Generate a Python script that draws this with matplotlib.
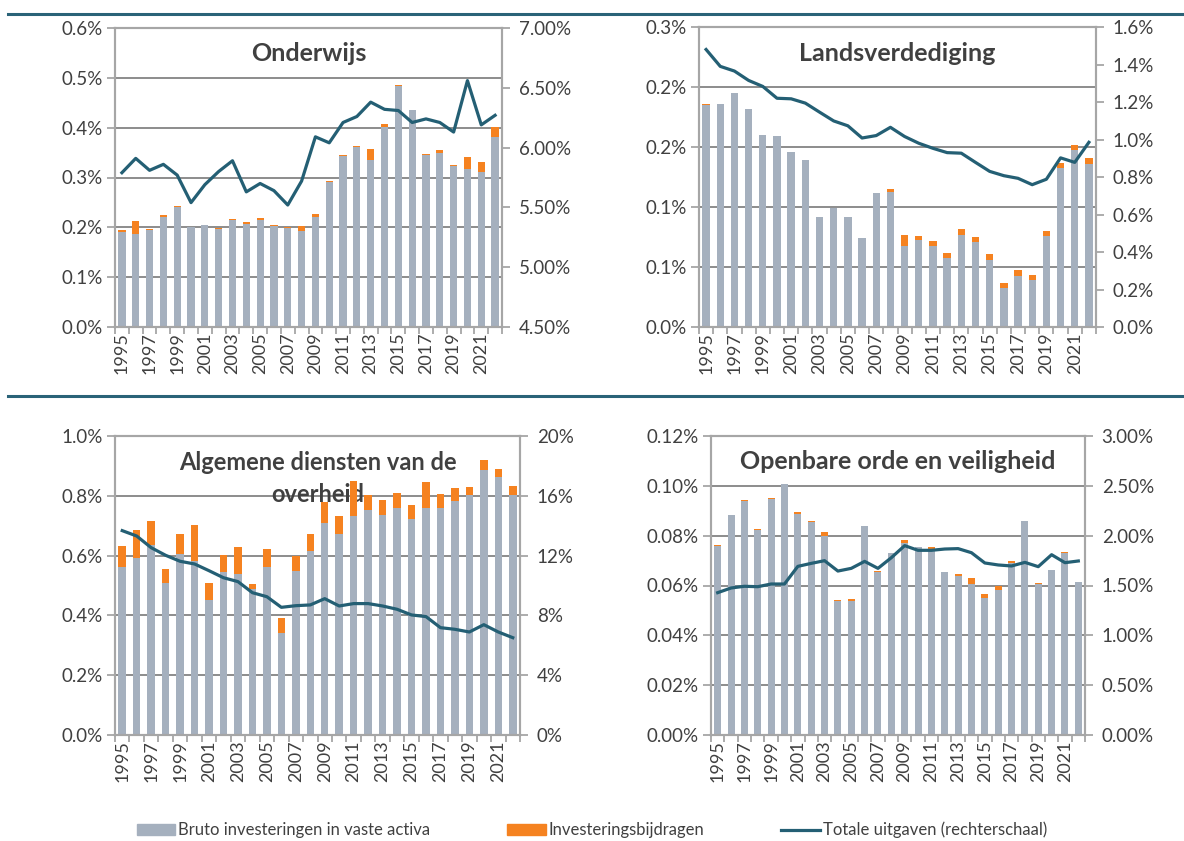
import numpy as np
import matplotlib
matplotlib.use("Agg")
import matplotlib.pyplot as plt
from matplotlib.lines import Line2D
from matplotlib.patches import Patch

plt.rcParams['font.family'] = ['Lato', 'DejaVu Sans']

years = list(range(1995, 2023))

# Onderwijs (% bbp), right axis: totale uitgaven
ond_bruto = [0.191, 0.186, 0.194, 0.221, 0.241, 0.200, 0.204, 0.196, 0.214, 0.206,
             0.214, 0.202, 0.198, 0.193, 0.221, 0.290, 0.343, 0.361, 0.336, 0.402,
             0.483, 0.435, 0.346, 0.349, 0.324, 0.317, 0.311, 0.381]
ond_bijdr = [0.003, 0.026, 0.003, 0.003, 0.002, 0.001, 0.001, 0.002, 0.002, 0.005,
             0.004, 0.003, 0.002, 0.010, 0.006, 0.002, 0.003, 0.003, 0.021, 0.006,
             0.002, 0.001, 0.002, 0.006, 0.002, 0.024, 0.021, 0.020]
ond_totaal = [5.79, 5.91, 5.81, 5.86, 5.77, 5.54, 5.69, 5.80, 5.89, 5.63,
              5.70, 5.64, 5.52, 5.72, 6.09, 6.04, 6.21, 6.26, 6.38, 6.32,
              6.31, 6.21, 6.24, 6.21, 6.13, 6.56, 6.19, 6.27]

# Landsverdediging
lv_bruto = [0.1846, 0.1857, 0.1949, 0.1815, 0.1601, 0.1590, 0.1462, 0.1395, 0.0916, 0.0991,
            0.0913, 0.0738, 0.1116, 0.1128, 0.0677, 0.0727, 0.0677, 0.0576, 0.0766, 0.0710,
            0.0562, 0.0323, 0.0426, 0.0390, 0.0760, 0.1323, 0.1475, 0.1361]
lv_bijdr = [0.001, 0.0, 0.0, 0.0, 0.0, 0.0, 0.0, 0.0, 0.0, 0.0,
            0.0, 0.0, 0.0, 0.0025, 0.009, 0.003, 0.004, 0.004, 0.005, 0.004,
            0.0045, 0.0047, 0.005, 0.0047, 0.004, 0.004, 0.0045, 0.005]
lv_totaal = [1.48, 1.39, 1.365, 1.315, 1.283, 1.22, 1.217, 1.194, 1.146, 1.099,
             1.073, 1.008, 1.021, 1.065, 1.016, 0.98, 0.953, 0.93, 0.927, 0.878,
             0.83, 0.807, 0.793, 0.759, 0.788, 0.902, 0.878, 0.985]

# Algemene diensten van de overheid
alg_bruto = [0.563, 0.593, 0.634, 0.507, 0.604, 0.582, 0.453, 0.545, 0.540, 0.487,
             0.563, 0.342, 0.550, 0.617, 0.709, 0.671, 0.732, 0.751, 0.737, 0.758,
             0.724, 0.758, 0.760, 0.784, 0.804, 0.885, 0.864, 0.804]
alg_bijdr = [0.069, 0.092, 0.081, 0.049, 0.069, 0.119, 0.056, 0.056, 0.088, 0.017,
             0.060, 0.050, 0.048, 0.054, 0.069, 0.063, 0.116, 0.051, 0.050, 0.051,
             0.044, 0.087, 0.047, 0.043, 0.027, 0.034, 0.027, 0.029]
alg_totaal = [13.67, 13.31, 12.53, 12.02, 11.62, 11.44, 10.99, 10.52, 10.26, 9.52,
              9.25, 8.54, 8.65, 8.70, 9.12, 8.63, 8.79, 8.79, 8.63, 8.41,
              8.03, 7.92, 7.18, 7.07, 6.89, 7.38, 6.89, 6.51]

# Openbare orde en veiligheid
oov_bruto = [0.0760, 0.0884, 0.0939, 0.0823, 0.0949, 0.1009, 0.0888, 0.0855, 0.0797, 0.0536,
             0.0539, 0.0839, 0.0654, 0.0732, 0.0771, 0.0756, 0.0748, 0.0654, 0.0638, 0.0607,
             0.0551, 0.0583, 0.0692, 0.0860, 0.0606, 0.0662, 0.0730, 0.0615]
oov_bijdr = [0.0004, 0.0, 0.0003, 0.0002, 0.0002, 0.0, 0.0006, 0.0004, 0.0018, 0.0004,
             0.0005, -0.0003, 0.0004, 0.0, 0.0013, -0.0006, 0.0008, 0.0, 0.0009, 0.0024,
             0.0015, 0.0015, 0.0005, 0.0, 0.0004, 0.0, 0.0003, 0.0]
oov_totaal = [1.428, 1.475, 1.492, 1.488, 1.515, 1.515, 1.692, 1.722, 1.749, 1.645,
              1.672, 1.742, 1.672, 1.779, 1.900, 1.853, 1.853, 1.866, 1.870, 1.829,
              1.726, 1.706, 1.696, 1.732, 1.689, 1.809, 1.729, 1.746]

GREY = '#A5B0BE'
ORANGE = '#F58220'
TEAL = '#245F74'
SPINE = '#A6A6A6'
GRID = '#8C8C8C'
TXT = '#404040'

W, H = 1184, 841
fig = plt.figure(figsize=(W / 100, H / 100), dpi=100)


def px_axes(l, r, t, b):
    return fig.add_axes([l / W, (H - b) / H, (r - l) / W, (b - t) / H])


def panel(box, title, title_y, bruto, bijdr, totaal, lticks, llabels, rticks, rfmt,
          title_size=18):
    ax = px_axes(*box)
    x = np.arange(len(years))
    bruto = np.array(bruto)
    bijdr = np.array(bijdr)
    ax.bar(x, bruto, width=0.52, color=GREY, zorder=2)
    bottom = np.where(bijdr < 0, 0, bruto)
    ax.bar(x, bijdr, bottom=bottom, width=0.52, color=ORANGE, zorder=2, clip_on=False)
    ax.set_xlim(-0.5, len(years) - 0.5)
    ax.set_ylim(lticks[0], lticks[-1])
    ax.set_yticks(lticks)
    ax.set_yticklabels(llabels)
    ax.yaxis.grid(True, color=GRID, lw=1.4)
    ax.set_axisbelow(True)
    ax.set_xticks(x[::2])
    ax.set_xticklabels([str(y) for y in years[::2]], rotation=90)
    ax.set_xticks(np.arange(len(years) + 1) - 0.5, minor=True)
    ax.tick_params(axis='x', which='major', length=0, pad=4, labelsize=13, labelcolor=TXT)
    ax.tick_params(axis='x', which='minor', length=5, width=1.3, color=SPINE)
    ax.tick_params(axis='y', length=6, width=1.3, color=SPINE, labelsize=13.5,
                   labelcolor=TXT, pad=3)
    for s in ax.spines.values():
        s.set_color(SPINE)
        s.set_linewidth(1.5)
    ax.text(0.5, title_y, title, transform=ax.transAxes, ha='center', va='center',
            fontsize=title_size, fontweight='bold', color=TXT, zorder=1, linespacing=1.5)

    ax2 = ax.twinx()
    ax2.plot(x, totaal, color=TEAL, lw=2.3, zorder=3)
    ax2.set_ylim(rticks[0], rticks[-1])
    ax2.set_yticks(rticks)
    ax2.set_yticklabels([rfmt.format(v) for v in rticks])
    ax2.tick_params(axis='y', length=6, width=1.3, color=SPINE, labelsize=13.5,
                    labelcolor=TXT, pad=6)
    for s in ax2.spines.values():
        s.set_color(SPINE)
        s.set_linewidth(1.5)
    return ax


panel((115, 502, 28, 327), 'Onderwijs', 0.915, ond_bruto, ond_bijdr, ond_totaal,
      np.linspace(0, 0.6, 7), ['0.0%', '0.1%', '0.2%', '0.3%', '0.4%', '0.5%', '0.6%'],
      np.linspace(4.5, 7.0, 6), '{:.2f}%')
panel((699, 1096, 27, 327), 'Landsverdediging', 0.913, lv_bruto, lv_bijdr, lv_totaal,
      np.linspace(0, 0.25, 6), ['0.0%', '0.1%', '0.1%', '0.2%', '0.2%', '0.3%'],
      np.linspace(0, 1.6, 9), '{:.1f}%')
panel((115, 520, 436, 735), 'Algemene diensten van de\noverheid', 0.858, alg_bruto, alg_bijdr,
      alg_totaal,
      np.linspace(0, 1.0, 6), ['0.0%', '0.2%', '0.4%', '0.6%', '0.8%', '1.0%'],
      np.linspace(0, 20, 6), '{:.0f}%', title_size=17)
panel((711, 1085, 436, 735), 'Openbare orde en veiligheid', 0.915, oov_bruto, oov_bijdr,
      oov_totaal,
      np.linspace(0, 0.12, 7), ['0.00%', '0.02%', '0.04%', '0.06%', '0.08%', '0.10%', '0.12%'],
      np.linspace(0, 3.0, 7), '{:.2f}%')

# separator lines above each row
for yy in (14, 396):
    fig.add_artist(Line2D([8 / W, 1.0], [1 - yy / H, 1 - yy / H], color='#2A6378', lw=2.2))

handles = [Patch(color=GREY), Patch(color=ORANGE), Line2D([], [], color=TEAL, lw=2.3)]
labels = ['Bruto investeringen in vaste activa', 'Investeringsbijdragen',
          'Totale uitgaven (rechterschaal)']
fig.legend(handles, labels, loc='center', bbox_to_anchor=(0.5, 1 - 830 / H), ncol=3,
           frameon=False, fontsize=12, handlelength=2.3, handleheight=0.6,
           handletextpad=0.2, columnspacing=4.6, labelcolor=TXT)

fig.savefig('out.png', dpi=100)
